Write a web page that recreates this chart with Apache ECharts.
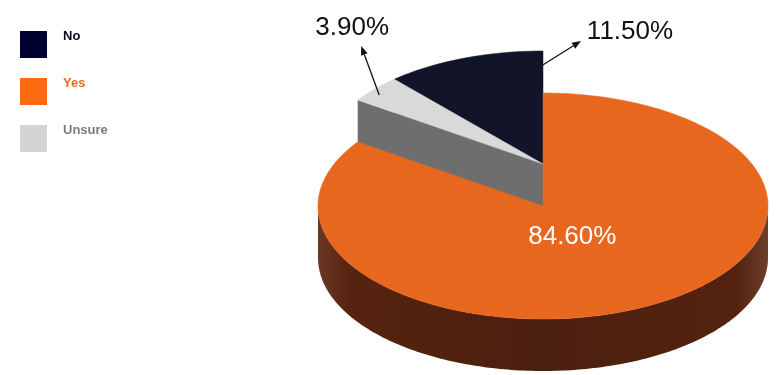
<!DOCTYPE html>
<html>
<head>
<meta charset="utf-8">
<script src="https://cdn.jsdelivr.net/npm/echarts@6/dist/echarts.min.js"></script>
<style>
html,body{margin:0;padding:0;background:#fff;}
#chart{width:776px;height:375px;}
</style>
</head>
<body>
<div id="chart"></div>
<script>
// ---- data ----
const categories = ['No', 'Yes', 'Unsure'];
const values = [11.5, 84.6, 3.9];
const valueLabels = ['11.50%', '84.60%', '3.90%'];
const exploded = [true, false, true];
// angular order of slices, clockwise from 12 o'clock
const sliceOrder = [1, 2, 0];

// ---- styles ----
const legendColors = ['#000030', '#fc6a10', '#d4d4d4'];
const legendTextColors = ['#0b0b2e', '#f7691c', '#7b7b7b'];
const topColors = ['#121429', '#e8671f', '#d9d9d9'];
const cutColors = ['#2a2a3a', '#9a4415', '#6e6e6e'];

const G = { cx: 543, cy: 206, rx: 225, ry: 113, depth: 52, explode: 42 };
const LABEL_FONT = '26px "Liberation Sans", Arial, sans-serif';

const total = values.reduce((a, b) => a + b, 0);
const angles = {};
(function () {
  let a = 0;
  sliceOrder.forEach(i => {
    const span = values[i] / total * 360;
    angles[i] = [a, a + span];
    a += span;
  });
})();

function pt(theta, dy, r) {
  r = r == null ? 1 : r;
  const t = theta * Math.PI / 180;
  return [G.cx + G.rx * r * Math.sin(t), G.cy + dy - G.ry * r * Math.cos(t)];
}
function arc(a0, a1, dy) {
  const pts = [];
  const n = Math.max(2, Math.ceil(Math.abs(a1 - a0)));
  for (let k = 0; k <= n; k++) pts.push(pt(a0 + (a1 - a0) * k / n, dy));
  return pts;
}

function renderSlice(params, api) {
  const i = params.seriesIndex;
  const [s, e] = angles[i];
  const off = exploded[i] ? -G.explode : 0;
  const children = [];
  // outer wall (front half only)
  const w0 = Math.max(s, 90), w1 = Math.min(e, 270);
  if (w1 > w0) {
    const top = arc(w0, w1, off);
    const bot = arc(w1, w0, off + G.depth);
    children.push({
      type: 'polygon', z2: 1,
      shape: { points: top.concat(bot) },
      style: {
        fill: new echarts.graphic.LinearGradient(0, 0, 1, 0, [
          { offset: 0, color: '#6c3826' },
          { offset: 0.07, color: '#56230f' },
          { offset: 0.5, color: '#4b1f0f' },
          { offset: 0.93, color: '#54230f' },
          { offset: 1, color: '#6e3e2c' }
        ]),
        stroke: null
      }
    });
  }
  // cut faces for exploded slices
  if (exploded[i]) {
    const c0 = [G.cx, G.cy + off];
    const faces = [];
    if (s > 180 && s < 360) faces.push(s);
    if (e > 0 && e < 180) faces.push(e);
    faces.forEach(a => {
      const p = pt(a, off);
      children.push({
        type: 'polygon', z2: 2,
        shape: { points: [c0, p, [p[0], p[1] + G.depth], [c0[0], c0[1] + G.depth]] },
        style: { fill: cutColors[i], stroke: null }
      });
    });
  }
  // top face
  const topPts = [[G.cx, G.cy + off]].concat(arc(s, e, off));
  children.push({
    type: 'polygon', z2: exploded[i] ? 3 : 4,
    shape: { points: topPts },
    style: { fill: topColors[i], stroke: topColors[i], lineWidth: 0.5 }
  });
  // labels
  const mid = (s + e) / 2;
  if (!exploded[i]) {
    const lp = pt(mid, off + 3, 0.28);
    children.push({
      type: 'text', z2: 10,
      style: {
        text: valueLabels[i], x: lp[0], y: lp[1],
        align: 'center', verticalAlign: 'middle',
        fill: '#ffffff', font: LABEL_FONT
      }
    });
  } else {
    // arrow from inside the slice outward
    const small = values[i] < 5;
    const a = small ? mid - 1.6 : e - 1.5;
    const r = small ? 0.95 : 0.85;
    const p0 = pt(a, off, r);
    const vec = small ? [-18, -49] : [43, -27];
    const p1 = [p0[0] + vec[0], p0[1] + vec[1]];
    const len = Math.hypot(vec[0], vec[1]);
    const ux = vec[0] / len, uy = vec[1] / len;
    const hl = 9, hw = 3.5;
    const base = [p1[0] - ux * hl, p1[1] - uy * hl];
    children.push({
      type: 'line', z2: 10,
      shape: { x1: p0[0], y1: p0[1], x2: base[0], y2: base[1] },
      style: { stroke: '#101020', lineWidth: 1.3 }
    });
    children.push({
      type: 'polygon', z2: 10,
      shape: { points: [p1, [base[0] - uy * hw, base[1] + ux * hw], [base[0] + uy * hw, base[1] - ux * hw]] },
      style: { fill: '#101020' }
    });
    const tp = small ? [p1[0] - 9, p1[1] - 18] : [p1[0] + 49, p1[1] - 9];
    children.push({
      type: 'text', z2: 10,
      style: {
        text: valueLabels[i], x: tp[0], y: tp[1],
        align: 'center', verticalAlign: 'middle',
        fill: '#111111', font: LABEL_FONT
      }
    });
  }
  return { type: 'group', children: children };
}

const chart = echarts.init(document.getElementById('chart'), null, { renderer: 'canvas' });
chart.setOption({
  animation: false,
  color: legendColors,
  legend: {
    orient: 'vertical', left: 20, top: 30, padding: 0,
    itemWidth: 27, itemHeight: 27, itemGap: 19,
    icon: 'rect', selectedMode: false,
    formatter: '{t|{name}}',
    data: categories.map((c, i) => ({
      name: c,
      textStyle: {
        color: legendTextColors[i], fontWeight: 'bold', fontSize: 13,
        fontFamily: '"Liberation Sans", Arial, sans-serif',
        rich: {
          t: {
            color: legendTextColors[i], fontWeight: 'bold', fontSize: 13,
            fontFamily: '"Liberation Sans", Arial, sans-serif',
            padding: [0, 0, 16, 11]
          }
        }
      }
    }))
  },
  series: categories.map((c, i) => ({
    type: 'custom', name: c, coordinateSystem: 'none',
    renderItem: renderSlice,
    data: [values[i]],
    silent: true
  }))
});
</script>
</body>
</html>
